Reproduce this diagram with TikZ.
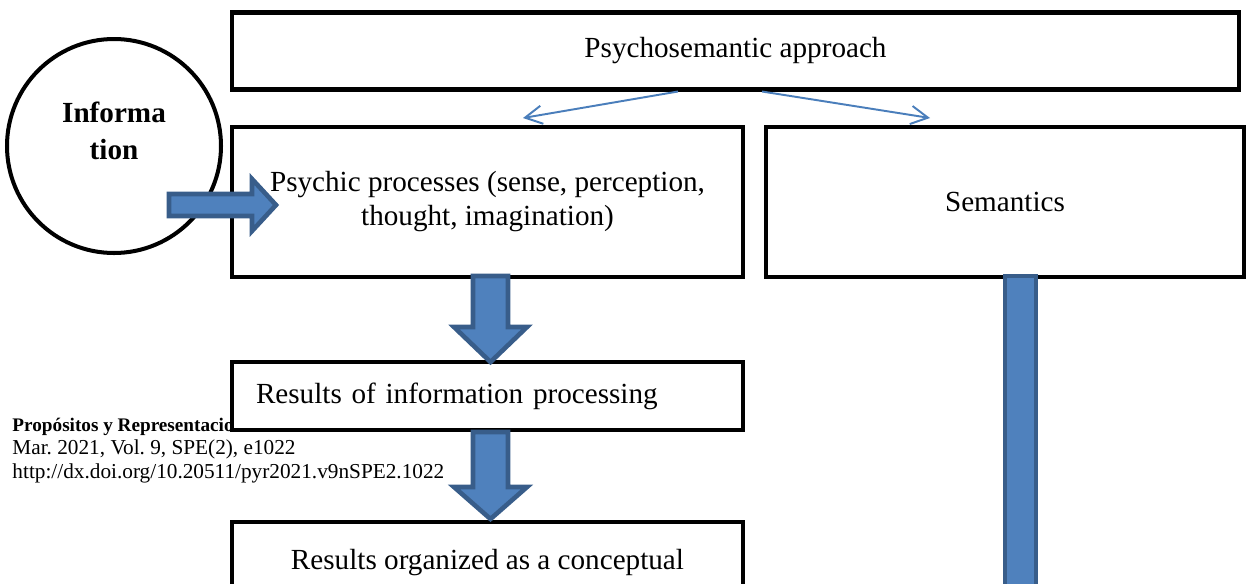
\documentclass[tikz,border=0pt]{standalone}
\usepackage{fontspec}
\setmainfont{Liberation Serif}
\usetikzlibrary{arrows.meta}
\frenchspacing
\newlength\px
\setlength\px{0.4115pt}
\definecolor{arrowFill}{HTML}{4F81BD}
\definecolor{arrowLine}{HTML}{385D8A}
\definecolor{linkBlue}{HTML}{4A7EBB}

\begin{document}
\begin{tikzpicture}[x=0.4115pt, y=-0.4115pt,
    box/.style={draw, line width=1.85pt, fill=white, rectangle, outer sep=0pt, inner sep=0pt, font=\fontsize{12}{14}\selectfont},
    blockarrow/.style={fill=arrowFill, draw=arrowLine, line width=1.9pt, line join=miter},
    link/.style={draw=linkBlue, line width=0.8pt, -{Straight Barb[length=7pt,width=7.5pt]}},
    footnote/.style={anchor=base west, inner sep=0pt, font=\fontsize{8.75}{10}\selectfont}]
    \useasboundingbox (0,0) rectangle (1251,583);
    \clip (0,0) rectangle (1251,583);

    % journal footer, partly hidden behind the boxes
    \node[footnote, font=\bfseries\fontsize{7.9}{10}\selectfont] (foot1) at (12,431) {Propósitos y Representaciones};
    \node[footnote] (foot2) at (12,454) {Mar. 2021, Vol. 9, SPE(2), e1022};
    \node[footnote] (foot3) at (12,478) {http://dx.doi.org/10.20511/pyr2021.v9nSPE2.1022};

    \node[draw, circle, line width=1.65pt, minimum size=214\px, inner sep=0pt] (info) at (114,146) {};
    \node[font=\bfseries\fontsize{12}{15}\selectfont, align=center, inner sep=0pt] (infoText) at (114,131) {Informa\\tion};

    \node[box, minimum width=1007\px, minimum height=77\px] (top) at (735.5,51) {Psychosemantic approach};
    \node[box, minimum width=511\px, minimum height=150\px, align=center] (psy) at (487.5,202) {Psychic processes (sense, perception,\\ thought, imagination)};
    \node[box, minimum width=478\px, minimum height=150\px] (sem) at (1005,202) {Semantics};
    \node[box, minimum width=511\px, minimum height=68\px, text width=463\px, inner xsep=24\px, align=left] (res) at (487.5,396) {Results of information processing};
    \node[box, minimum width=511\px, minimum height=150\px] (conc) at (487.5,597) {};
    \node[font=\fontsize{12}{14}\selectfont, inner sep=0pt] (concText) at (487.5,563) {Results organized as a conceptual};

    % block arrows
    \draw[blockarrow, shift={(psy.west)}] (-63,-8) -- (20,-8) -- (20,-23) -- (44,3) -- (20,29) -- (20,14) -- (-63,14) -- cycle;
    \draw[blockarrow, shift={(psy.south)}] (-14.5,-1) -- (20.5,-1) -- (20.5,50) -- (39.5,50) -- (3,85) -- (-33.5,50) -- (-14.5,50) -- cycle;
    \draw[blockarrow, shift={(res.south)}] (-14.5,2) -- (20.5,2) -- (20.5,57) -- (39.5,57) -- (3,89) -- (-33.5,57) -- (-14.5,57) -- cycle;
    \draw[blockarrow, shift={(sem.south)}] (0,-1) -- (31,-1) -- (31,400) -- (0,400) -- cycle;

    % thin links
    \draw[link] ([xshift=-57.5\px, yshift=-2\px]top.south) -- ([xshift=35.5\px, yshift=9\px]psy.north);
    \draw[link] ([xshift=26.5\px, yshift=-2\px]top.south) -- ([xshift=-75\px, yshift=9\px]sem.north);
\end{tikzpicture}
\end{document}
